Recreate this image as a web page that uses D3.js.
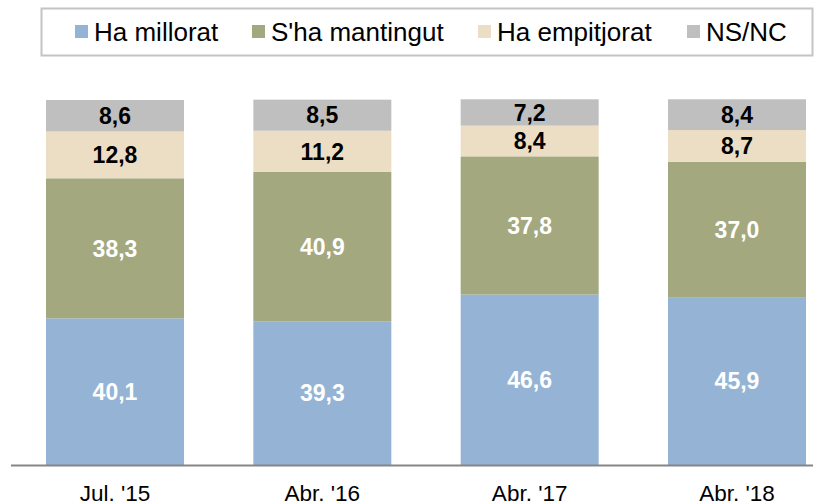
<html>
<head>
<script src="https://d3js.org/d3.v7.min.js"></script>
<style>
  body { margin: 0; background: #fff; }
  text { font-family: Arial, "Liberation Sans", sans-serif; }
</style>
</head>
<body>
<svg id="chart" width="822" height="504"></svg>
<script>
// data
var categories = ["Jul. '15", "Abr. '16", "Abr. '17", "Abr. '18"];
var seriesNames = ["Ha millorat", "S'ha mantingut", "Ha empitjorat", "NS/NC"];
var millorat   = [40.1, 39.3, 46.6, 45.9];
var mantingut  = [38.3, 40.9, 37.8, 37.0];
var empitjorat = [12.8, 11.2, 8.4, 8.7];
var nsnc       = [8.6, 8.5, 7.2, 8.4];

var colors = ["#95b3d4", "#a3a87f", "#ecdec4", "#bfbfbf"];
var labelColors = ["#ffffff", "#ffffff", "#000000", "#000000"];

var svg = d3.select("#chart");

// build rows for the stack
var rows = categories.map(function (c, i) {
  var r = { cat: c };
  r[seriesNames[0]] = millorat[i];
  r[seriesNames[1]] = mantingut[i];
  r[seriesNames[2]] = empitjorat[i];
  r[seriesNames[3]] = nsnc[i];
  return r;
});
var stacked = d3.stack().keys(seriesNames)(rows);

var x = d3.scaleBand()
  .domain(categories)
  .range([46, 806])
  .paddingInner(0.3344)
  .paddingOuter(0);

var y = d3.scaleLinear()
  .domain([0, 100])
  .range([465, 99.3]);

// bars
var layer = svg.append("g").selectAll("g")
  .data(stacked)
  .enter().append("g")
  .attr("fill", function (d, i) { return colors[i]; });

layer.selectAll("rect")
  .data(function (d) { return d; })
  .enter().append("rect")
  .attr("x", function (d) { return x(d.data.cat); })
  .attr("y", function (d) { return y(d[1]); })
  .attr("height", function (d) { return y(d[0]) - y(d[1]); })
  .attr("width", x.bandwidth());

// value labels
stacked.forEach(function (s, si) {
  svg.append("g").selectAll("text")
    .data(s)
    .enter().append("text")
    .attr("x", function (d) { return x(d.data.cat) + x.bandwidth() / 2; })
    .attr("y", function (d) { return (y(d[0]) + y(d[1])) / 2; })
    .attr("dy", "0.36em")
    .attr("text-anchor", "middle")
    .style("font-size", "23px")
    .style("font-weight", "bold")
    .attr("fill", labelColors[si])
    .text(function (d) { return d3.format(".1f")(d[1] - d[0]).replace(".", ","); });
});

// x axis
var xAxis = svg.append("g")
  .attr("transform", "translate(0,465)")
  .call(d3.axisBottom(x).tickSize(0));
xAxis.select(".domain").remove();
xAxis.selectAll("text")
  .attr("y", 36)
  .attr("dy", 0)
  .style("font-size", "22.5px")
  .attr("fill", "#000");
svg.append("line")
  .attr("x1", 11).attr("x2", 813)
  .attr("y1", 465.5).attr("y2", 465.5)
  .attr("stroke", "#868686")
  .attr("stroke-width", 2);

// legend
svg.append("rect")
  .attr("x", 41.5).attr("y", 8.5)
  .attr("width", 771).attr("height", 47)
  .attr("fill", "#fff")
  .attr("stroke", "#c4c4c4")
  .attr("stroke-width", 2);

var legendX = [75, 252, 478, 687];
var legend = svg.append("g").selectAll("g")
  .data(seriesNames)
  .enter().append("g")
  .attr("transform", function (d, i) { return "translate(" + legendX[i] + ",25)"; });
legend.append("rect")
  .attr("width", 13).attr("height", 13)
  .attr("fill", function (d, i) { return colors[i]; });
legend.append("text")
  .attr("x", 19)
  .attr("y", 6.5)
  .attr("dy", "0.36em")
  .style("font-size", "26px")
  .attr("fill", "#000")
  .text(function (d) { return d; });
</script>
</body>
</html>
